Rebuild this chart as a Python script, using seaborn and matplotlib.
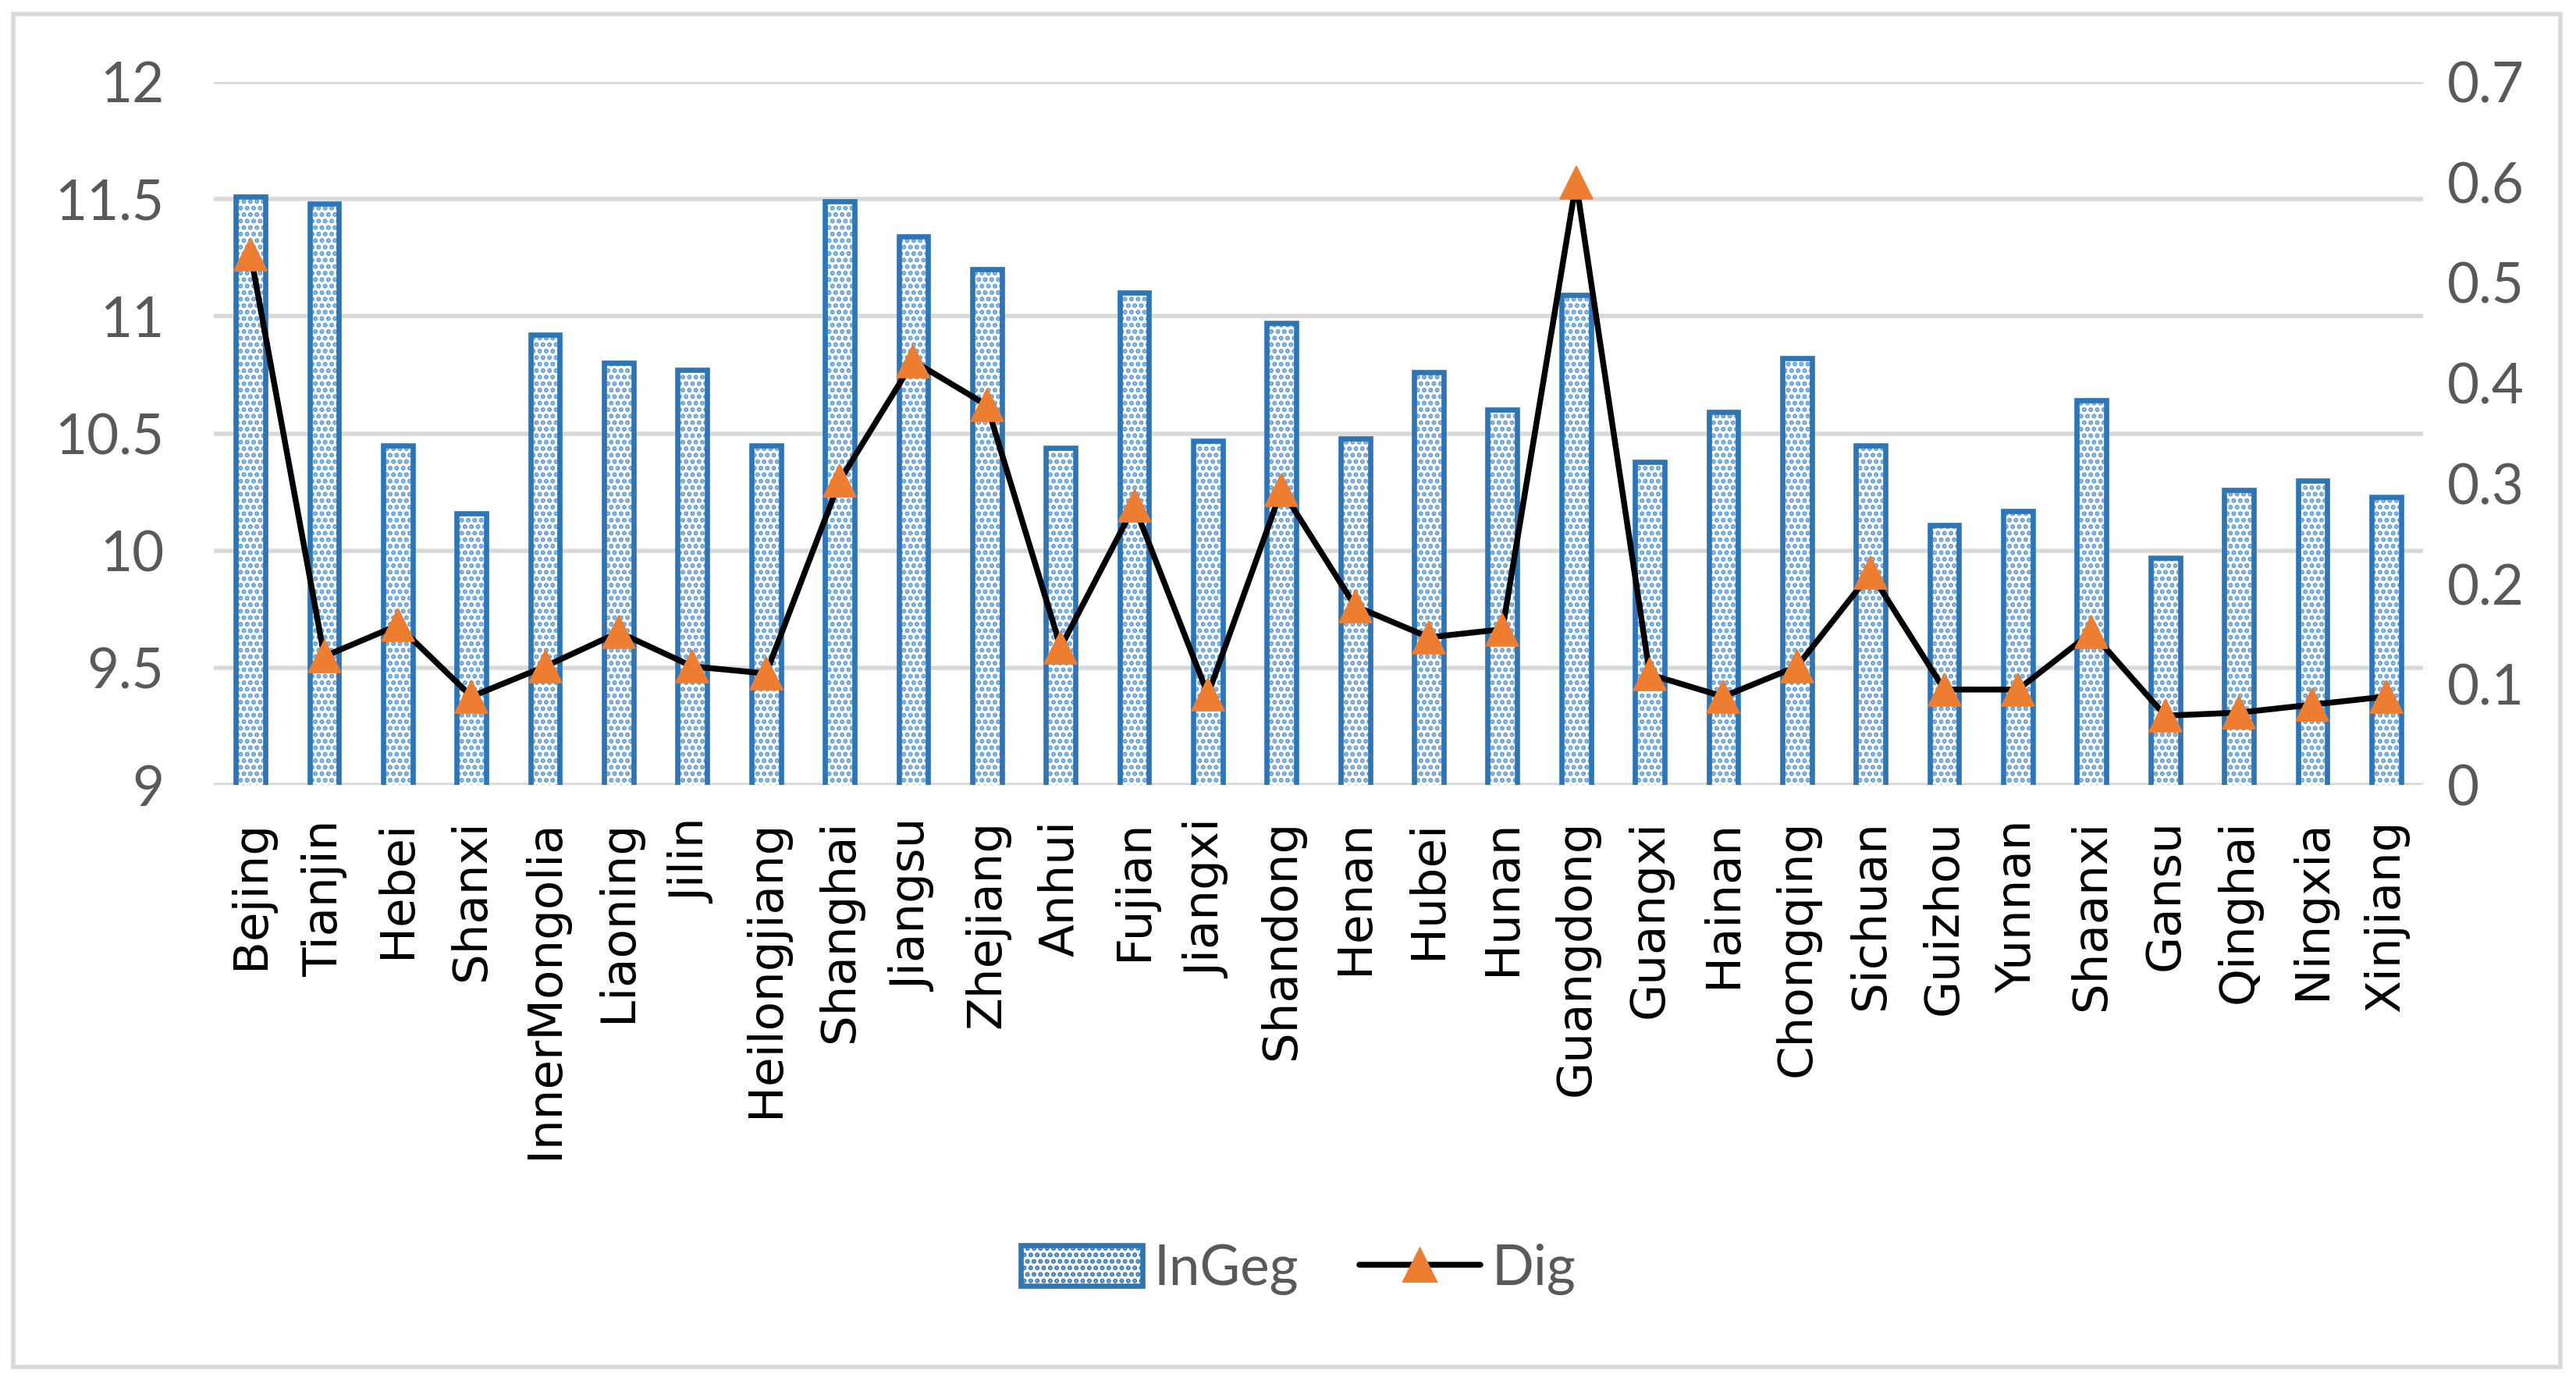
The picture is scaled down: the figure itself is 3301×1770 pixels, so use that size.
import matplotlib
matplotlib.use("Agg")
import matplotlib.pyplot as plt
import seaborn as sns
import pandas as pd
from matplotlib.patches import Rectangle, Patch
from matplotlib.lines import Line2D

provinces = ['Bejing', 'Tianjin', 'Hebei', 'Shanxi', 'InnerMongolia', 'Liaoning', 'Jilin',
             'Heilongjiang', 'Shanghai', 'Jiangsu', 'Zhejiang', 'Anhui', 'Fujian', 'Jiangxi',
             'Shandong', 'Henan', 'Hubei', 'Hunan', 'Guangdong', 'Guangxi', 'Hainan',
             'Chongqing', 'Sichuan', 'Guizhou', 'Yunnan', 'Shaanxi', 'Gansu', 'Qinghai',
             'Ningxia', 'Xinjiang']
ingeg = [11.51, 11.48, 10.45, 10.16, 10.92, 10.80, 10.77, 10.45, 11.49, 11.34, 11.20, 10.44,
         11.10, 10.47, 10.97, 10.48, 10.76, 10.60, 11.09, 10.38, 10.59, 10.82, 10.45, 10.11,
         10.17, 10.64, 9.97, 10.26, 10.30, 10.23]
dig = [0.528, 0.128, 0.159, 0.088, 0.118, 0.152, 0.118, 0.111, 0.303, 0.422, 0.378, 0.137,
       0.278, 0.090, 0.294, 0.178, 0.147, 0.155, 0.600, 0.110, 0.088, 0.118, 0.211, 0.095,
       0.095, 0.152, 0.069, 0.072, 0.080, 0.088]

df = pd.DataFrame({'Province': provinces, 'InGeg': ingeg, 'Dig': dig})

sns.set_style("white")
plt.rcParams['hatch.linewidth'] = 1.5

dark_blue = '#2E75B6'
light_blue = '#5B9BD5'
orange = '#ED7D31'
grid_grey = '#D9D9D9'
tick_grey = '#595959'

fig = plt.figure(figsize=(16.505, 8.85), dpi=200)
ax = fig.add_axes([0.083, 0.4316, 0.8576, 0.5091])

# bars: dotted fill in light blue, dark outline drawn on top
sns.barplot(data=df, x='Province', y='InGeg', ax=ax, color='white', width=0.40,
            edgecolor=light_blue, linewidth=0, zorder=2)
for p in ax.patches:
    p.set_hatch('....')
    p.set_edgecolor(light_blue)
    ax.add_patch(Rectangle(p.get_xy(), p.get_width(), p.get_height(), fill=False,
                           edgecolor=dark_blue, linewidth=2.4, zorder=3))

ax.set_ylim(9, 12)
ax.set_yticks([9, 9.5, 10, 10.5, 11, 11.5, 12])
ax.set_yticklabels(['9', '9.5', '10', '10.5', '11', '11.5', '12'])
ax.set_xlim(-0.5, len(provinces) - 0.5)
ax.yaxis.grid(True, color=grid_grey, linewidth=2.0, zorder=0)
ax.set_axisbelow(True)
for s in ax.spines.values():
    s.set_visible(False)
ax.set_xlabel('')
ax.set_ylabel('')
ax.tick_params(axis='y', length=0, pad=23, labelsize=25.5, labelcolor=tick_grey)
ax.tick_params(axis='x', length=0, pad=16)
for lab in ax.get_yticklabels():
    lab.set_family('Lato')
ax.set_xticks(range(len(provinces)))
ax.set_xticklabels(provinces, rotation=90, fontsize=22, family='DejaVu Sans', color='black')

ax2 = ax.twinx()
sns.lineplot(data=df, x='Province', y='Dig', ax=ax2, color='black', linewidth=2.7,
             marker='^', markersize=15, markerfacecolor=orange, markeredgecolor=orange,
             markeredgewidth=0.6, zorder=5, sort=False)
ax2.set_ylim(0, 0.7)
ax2.set_yticks([0, 0.1, 0.2, 0.3, 0.4, 0.5, 0.6, 0.7])
ax2.set_yticklabels(['0', '0.1', '0.2', '0.3', '0.4', '0.5', '0.6', '0.7'])
ax2.set_ylabel('')
ax2.set_xlabel('')
for s in ax2.spines.values():
    s.set_visible(False)
ax2.tick_params(axis='y', length=0, pad=11, labelsize=25.5, labelcolor=tick_grey)
for lab in ax2.get_yticklabels():
    lab.set_family('Lato')
ax2.grid(False)

# legend under the plot
handles = [Patch(facecolor='white', edgecolor=dark_blue, hatch='....', linewidth=2.4),
           Line2D([0], [0], color='black', linewidth=2.7, marker='^', markersize=15,
                  markerfacecolor=orange, markeredgecolor=orange)]
leg = fig.legend(handles, ['InGeg', 'Dig'], loc='center', bbox_to_anchor=(0.504, 0.081),
                 ncol=2, frameon=False, handlelength=2.2, handleheight=0.75,
                 handletextpad=0.2, columnspacing=1.1, prop={'family': 'Lato', 'size': 25.5})
for t in leg.get_texts():
    t.set_color(tick_grey)

# outer chart border
fig.patches.append(Rectangle((0.005, 0.01), 0.989, 0.98, transform=fig.transFigure,
                             fill=False, edgecolor=grid_grey, linewidth=2.0))

fig.savefig('out.png', dpi=200, facecolor='white')
